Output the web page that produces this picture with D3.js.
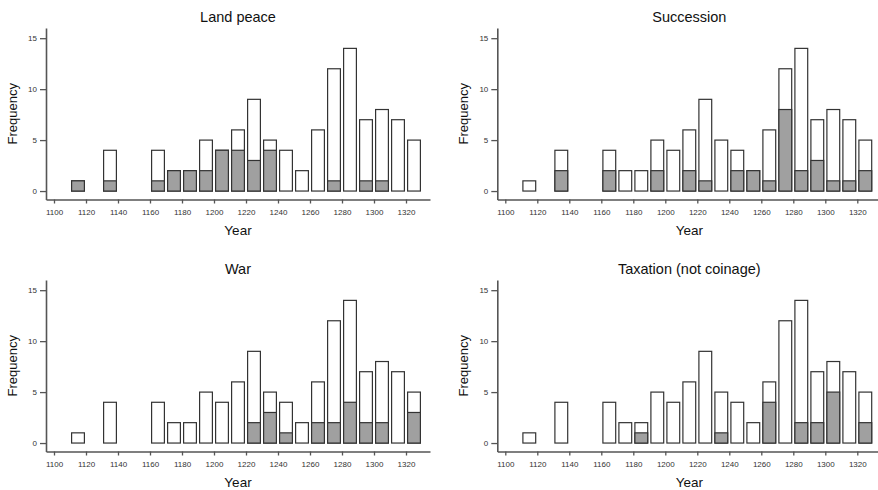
<!DOCTYPE html>
<html>
<head>
<meta charset="utf-8">
<script src="https://cdn.jsdelivr.net/npm/d3@7"></script>
<style>
  body { margin: 0; background: #fff; }
  text { font-family: "Liberation Sans", Arial, sans-serif; }
</style>
</head>
<body>
<div id="chart"></div>
<script>
var width = 878;
var height = 490;

// decade bins (start year of each 10-year bin)
var bins = [1110, 1130, 1160, 1170, 1180, 1190, 1200, 1210, 1220, 1230,
            1240, 1250, 1260, 1270, 1280, 1290, 1300, 1310, 1320];
// total frequency per bin (same in every panel)
var totals = [1, 4, 4, 2, 2, 5, 4, 6, 9, 5, 4, 2, 6, 12, 14, 7, 8, 7, 5];

// frequency of the highlighted topic per bin
var landPeace  = [1, 1, 1, 2, 2, 2, 4, 4, 3, 4, 0, 0, 0, 1, 0, 1, 1, 0, 0];
var succession = [0, 2, 2, 0, 0, 2, 0, 2, 1, 0, 2, 2, 1, 8, 2, 3, 1, 1, 2];
var war        = [0, 0, 0, 0, 0, 0, 0, 0, 2, 3, 1, 0, 2, 2, 4, 2, 2, 0, 3];
var taxation   = [0, 0, 0, 0, 1, 0, 0, 0, 0, 1, 0, 0, 4, 0, 2, 2, 5, 0, 2];

var titles = ["Land peace", "Succession", "War", "Taxation (not coinage)"];
var series = [landPeace, succession, war, taxation];

var xTicks = [1100, 1120, 1140, 1160, 1180, 1200, 1220, 1240, 1260, 1280, 1300, 1320];
var yTicks = [0, 5, 10, 15];

var svg = d3.select("#chart")
  .append("svg")
  .attr("width", width)
  .attr("height", height);

// panel geometry
var plotW = 384, plotH = 171.5;
var colX = [46, 497.3];
var rowY = [28, 280];

// shared scales (inside a panel)
var x = d3.scaleLinear().domain([1095, 1335]).range([0, plotW]);
var y = d3.scaleLinear().domain([-0.83, 16]).range([plotH, 0]);

titles.forEach(function(title, i) {
  var col = i % 2, row = Math.floor(i / 2);
  var g = svg.append("g")
    .attr("transform", "translate(" + colX[col] + "," + rowY[row] + ")");

  var rows = bins.map(function(b, j) {
    return { bin: b, total: totals[j], part: series[i][j] };
  });

  // total bars (white)
  g.selectAll(".total")
    .data(rows)
    .enter().append("rect")
    .attr("class", "total")
    .attr("x", function(d) { return x(d.bin + 1); })
    .attr("width", x(1108) - x(1100))
    .attr("y", function(d) { return y(d.total); })
    .attr("height", function(d) { return y(0) - y(d.total); })
    .attr("fill", "#fff")
    .attr("stroke", "#333")
    .attr("stroke-width", 1.2);

  // highlighted part (grey)
  g.selectAll(".part")
    .data(rows.filter(function(d) { return d.part > 0; }))
    .enter().append("rect")
    .attr("class", "part")
    .attr("x", function(d) { return x(d.bin + 1); })
    .attr("width", x(1108) - x(1100))
    .attr("y", function(d) { return y(d.part); })
    .attr("height", function(d) { return y(0) - y(d.part); })
    .attr("fill", "#a0a0a0")
    .attr("stroke", "#333")
    .attr("stroke-width", 1.2);

  // x axis
  var xa = g.append("g")
    .attr("transform", "translate(0," + plotH + ")")
    .call(d3.axisBottom(x).tickValues(xTicks).tickFormat(d3.format("d"))
      .tickSize(4).tickSizeOuter(0).tickPadding(6));

  // y axis
  var ya = g.append("g")
    .call(d3.axisLeft(y).tickValues(yTicks)
      .tickSize(6).tickSizeOuter(0).tickPadding(3));

  [xa, ya].forEach(function(a) {
    a.select(".domain").attr("stroke", "#555").attr("stroke-width", 1.6);
    a.selectAll(".tick line").attr("stroke", "#555").attr("stroke-width", 1.3);
    a.selectAll(".tick text")
      .attr("fill", "#333")
      .style("font-size", "8px")
      .style("font-family", "'Liberation Sans', Arial, sans-serif");
  });

  // title
  g.append("text")
    .attr("x", plotW / 2)
    .attr("y", -6)
    .attr("text-anchor", "middle")
    .attr("fill", "#111")
    .style("font-size", "14.5px")
    .text(title);

  // x label
  g.append("text")
    .attr("x", plotW / 2)
    .attr("y", plotH + 35)
    .attr("text-anchor", "middle")
    .attr("fill", "#111")
    .style("font-size", "13.5px")
    .text("Year");

  // y label
  g.append("text")
    .attr("transform", "translate(-29," + (plotH / 2 - 0) + ") rotate(-90)")
    .attr("text-anchor", "middle")
    .attr("fill", "#111")
    .style("font-size", "13px")
    .text("Frequency");
});
</script>
</body>
</html>
